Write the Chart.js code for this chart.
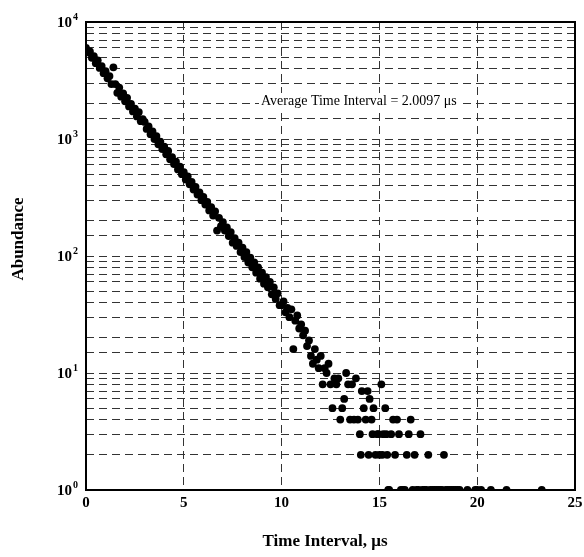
<!DOCTYPE html>
<html>
<head>
<meta charset="utf-8">
<script src="https://cdn.jsdelivr.net/npm/chart.js@4/dist/chart.umd.min.js"></script>
<style>
  html, body { margin: 0; padding: 0; background: #ffffff; }
  #wrap { width: 584px; height: 557px; }
</style>
</head>
<body>
<div id="wrap"><canvas id="decayChart"></canvas></div>
<script>
// Zeitintervalle (µs) und Häufigkeiten
const timeValues = [
  0.0, 0.1, 0.2, 0.3, 0.4, 0.5, 0.6, 0.7, 0.8, 0.9,
  1.0, 1.1, 1.2, 1.3, 1.4, 1.5, 1.6, 1.7, 1.8, 1.9,
  2.0, 2.1, 2.2, 2.3, 2.4, 2.5, 2.6, 2.7, 2.8, 2.9,
  3.0, 3.1, 3.2, 3.3, 3.4, 3.5, 3.6, 3.7, 3.8, 3.9,
  4.0, 4.1, 4.2, 4.3, 4.4, 4.5, 4.6, 4.7, 4.8, 4.9,
  5.0, 5.1, 5.2, 5.3, 5.4, 5.5, 5.6, 5.7, 5.8, 5.9,
  6.0, 6.1, 6.2, 6.3, 6.4, 6.5, 6.6, 6.7, 6.8, 6.9,
  7.0, 7.1, 7.2, 7.3, 7.4, 7.5, 7.6, 7.7, 7.8, 7.9,
  8.0, 8.1, 8.2, 8.3, 8.4, 8.5, 8.6, 8.7, 8.8, 8.9,
  9.0, 9.1, 9.2, 9.3, 9.4, 9.5, 9.6, 9.7, 9.8, 9.9,
  10.0, 10.1, 10.2, 10.3, 10.4, 10.5, 10.6, 10.7, 10.8, 10.9,
  11.0, 11.1, 11.2, 11.3, 11.4, 11.5, 11.6, 11.7, 11.8, 11.9,
  12.0, 12.1, 12.2, 12.3, 12.4, 12.5, 12.6, 12.7, 12.8, 12.9,
  13.0, 13.1, 13.2, 13.3, 13.4, 13.5, 13.6, 13.7, 13.8, 13.9,
  14.0, 14.05, 14.1, 14.2, 14.3, 14.4, 14.45, 14.5, 14.6, 14.65, 14.7, 14.8, 14.9, 14.95,
  15.0, 15.1, 15.15, 15.2, 15.3, 15.35, 15.4, 15.45, 15.5, 15.6, 15.7, 15.8, 15.9,
  16.0, 16.1, 16.2, 16.3, 16.4, 16.5, 16.6, 16.7, 16.8, 16.9,
  17.0, 17.1, 17.2, 17.3, 17.4, 17.5, 17.6, 17.7, 17.8, 17.9,
  18.0, 18.1, 18.2, 18.3, 18.4, 18.5, 18.6, 18.7, 18.8, 18.9,
  19.0, 19.1, 19.5, 19.9, 20.0, 20.2, 20.7, 21.5, 23.3
];
const abundanceValues = [
  6000, 5500, 5600, 4950, 5100, 4450, 4700, 4050, 4200, 3650,
  3800, 3300, 3450, 2950, 4100, 2950, 2480, 2750, 2300, 2450,
  2100, 2250, 1900, 2000, 1720, 1820, 1560, 1700, 1420, 1480,
  1400, 1220, 1280, 1100, 1160, 1000, 1060, 900, 950, 820,
  860, 740, 790, 670, 700, 610, 640, 550, 580, 500,
  520, 450, 480, 410, 430, 370, 390, 335, 350, 300,
  320, 275, 290, 245, 262, 222, 240, 165, 212, 180,
  195, 165, 176, 148, 160, 130, 142, 122, 130, 108,
  118, 98, 108, 88, 97, 80, 88, 72, 80, 64,
  72, 58, 66, 54, 60, 47, 54, 43, 48, 38,
  38, 41, 33, 36, 30, 35, 16, 28, 31, 24,
  26, 21, 23, 17, 19, 14, 12, 16, 13, 11,
  14, 8, 11, 10, 12, 8, 5, 9, 8, 9,
  4, 5, 6, 10, 8, 4, 8, 4, 9, 4,
  3, 2, 7, 5, 4, 7, 2, 6, 4, 3, 5, 2, 3, 3,
  2, 8, 2, 3, 5, 3, 2, 1, 1, 3, 4, 2, 4,
  3, 1, 1, 1, 2, 3, 4, 1, 2, 1,
  1, 3, 1, 1, 1, 2, 1, 1, 1, 1,
  1, 1, 1, 2, 1, 1, 1, 1, 1, 1,
  1, 1, 1, 1, 1, 1, 1, 1, 1
];
const xTicks = [0, 5, 10, 15, 20, 25];
const yExponents = [0, 1, 2, 3, 4];
const annotationText = 'Average Time Interval = 2.0097 \u03bcs';
const xTitle = 'Time Interval, \u03bcs';
const yTitle = 'Abundance';

const serif = '"Liberation Serif", "Times New Roman", serif';

// Rahmen, Achsenbeschriftungen und Textfeld
const decorPlugin = {
    id: 'decor',
    afterDatasetsDraw(chart) {
        const ctx = chart.ctx;
        const a = chart.chartArea;
        const xScale = chart.scales.x;
        const yScale = chart.scales.y;
        ctx.save();

        // Rahmen
        ctx.strokeStyle = '#000';
        ctx.lineWidth = 2;
        ctx.strokeRect(a.left, a.top, a.right - a.left, a.bottom - a.top);

        ctx.fillStyle = '#000';
        ctx.textBaseline = 'middle';

        // x-Beschriftungen
        ctx.font = 'bold 15px ' + serif;
        ctx.textAlign = 'center';
        xTicks.forEach(v => {
            ctx.fillText(String(v), xScale.getPixelForValue(v), a.bottom + 13);
        });

        // y-Beschriftungen 10^n
        yExponents.forEach(e => {
            const y = yScale.getPixelForValue(Math.pow(10, e));
            ctx.font = 'bold 15px ' + serif;
            ctx.textAlign = 'right';
            ctx.fillText('10', 72, y + 1);
            ctx.font = 'bold 10px ' + serif;
            ctx.textAlign = 'left';
            ctx.fillText(String(e), 73, y - 5);
        });

        // Achsentitel
        ctx.font = 'bold 17px ' + serif;
        ctx.textAlign = 'center';
        ctx.fillText(xTitle, 325, 542);
        ctx.save();
        ctx.translate(19, 239);
        ctx.rotate(-Math.PI / 2);
        ctx.fillText(yTitle, 0, 0);
        ctx.restore();

        // Textfeld mit Mittelwert
        ctx.font = '14px ' + serif;
        ctx.textAlign = 'left';
        const w = ctx.measureText(annotationText).width;
        ctx.fillStyle = '#fff';
        ctx.fillRect(259, 93, w + 4, 16);
        ctx.fillStyle = '#000';
        ctx.fillText(annotationText, 261, 101);

        ctx.restore();
    }
};

const points = timeValues.map((t, i) => ({ x: t, y: abundanceValues[i] }));

new Chart(document.getElementById('decayChart'), {
    type: 'scatter',
    data: {
        datasets: [{
            data: points,
            backgroundColor: '#000',
            borderWidth: 0,
            pointRadius: 3.9,
            pointHoverRadius: 3.9
        }]
    },
    options: {
        responsive: true,
        maintainAspectRatio: false,
        animation: false,
        events: [],
        layout: { padding: { top: 22, right: 9, left: 0, bottom: 0 } },
        plugins: {
            legend: { display: false },
            tooltip: { enabled: false }
        },
        scales: {
            x: {
                type: 'linear',
                min: 0,
                max: 25,
                afterBuildTicks: scale => { scale.ticks = xTicks.map(v => ({ value: v })); },
                afterFit: scale => { scale.height = 67; },
                ticks: { display: false },
                grid: { color: '#333', lineWidth: 1, drawTicks: false },
                border: { display: false, dash: [8, 5] }
            },
            y: {
                type: 'logarithmic',
                min: 1,
                max: 10000,
                afterFit: scale => { scale.width = 86; },
                ticks: {
                    autoSkip: false,
                    callback: () => ''
                },
                grid: { color: '#333', lineWidth: 1, drawTicks: false },
                border: { display: false, dash: [8, 5] }
            }
        }
    },
    plugins: [decorPlugin]
});
</script>
</body>
</html>
